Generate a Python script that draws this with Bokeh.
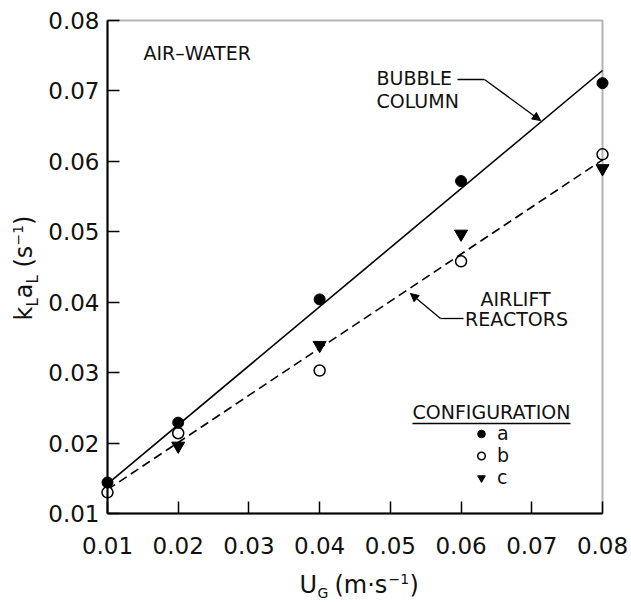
import math
from bokeh.plotting import figure
from bokeh.models import (Label, Arrow, NormalHead, Legend, LegendItem,
                          FixedTicker, Range1d, NumeralTickFormatter,
                          BoxAnnotation)
from bokeh.embed import file_html
from bokeh.resources import INLINE

# ---------------- data ----------------
ug = [0.01, 0.02, 0.04, 0.06, 0.08]                 # superficial gas velocity, m/s
kla_a = [0.0144, 0.0229, 0.0404, 0.0572, 0.0711]    # configuration a (filled circle)
kla_b = [0.0130, 0.0214, 0.0303, 0.0458, 0.0610]    # configuration b (open circle)
ug_c = [0.02, 0.04, 0.06, 0.08]
kla_c = [0.0196, 0.0339, 0.0497, 0.0590]            # configuration c (down triangle)

fit_x = [0.01, 0.08]
bubble_fit = [0.0142, 0.0729]                       # bubble column line
airlift_fit = [0.0134, 0.0602]                      # airlift reactors line

ticks = [0.01, 0.02, 0.03, 0.04, 0.05, 0.06, 0.07, 0.08]
legend_names = ["a", "b", "c"]

# ---------------- layout ----------------
W, H = 631, 603
FL, FR, FT, FB = 107, 602, 20, 513          # pixel box of the plotting area
X0, X1, Y0, Y1 = 0.01, 0.08, 0.01, 0.08
FONT = "DejaVu Sans"
INK = "#111111"


def dx(px):
    return X0 + (px - FL) / (FR - FL) * (X1 - X0)


def dy(py):
    return Y0 + (FB - py) / (FB - FT) * (Y1 - Y0)


# the Bokeh frame covers the whole canvas; axes sit at fixed locations
p = figure(width=W, height=H, output_backend="svg", toolbar_location=None,
           title=None,
           x_range=Range1d(dx(0), dx(W)), y_range=Range1d(dy(H), dy(0)),
           min_border=0, min_border_left=0, min_border_right=0,
           min_border_top=0, min_border_bottom=0)
p.grid.visible = False
p.background_fill_color = "white"
p.border_fill_color = "white"
p.outline_line_color = None

for ax in (p.xaxis[0], p.yaxis[0]):
    ax.ticker = FixedTicker(ticks=ticks)
    ax.formatter = NumeralTickFormatter(format="0.00")
    ax.bounds = (X0, X1)
    ax.major_tick_in = 12
    ax.major_tick_out = 0
    ax.minor_tick_line_color = None
    ax.major_tick_line_width = 1.5
    ax.major_tick_line_color = "black"
    ax.axis_line_width = 2
    ax.axis_line_color = "black"
    ax.major_label_text_font = FONT
    ax.major_label_text_font_size = "23px"
    ax.major_label_text_color = INK
    ax.axis_label = None
p.xaxis[0].fixed_location = Y0
p.yaxis[0].fixed_location = X0
p.xaxis[0].major_label_standoff = 23
p.yaxis[0].major_label_standoff = 8

# plot box
p.add_layout(BoxAnnotation(left=X0, right=X1, bottom=Y0, top=Y1,
                           fill_alpha=0, line_color="black", line_width=2))

# ---------------- lines ----------------
p.line(fit_x, bubble_fit, line_color="black", line_width=1.6)
p.line(fit_x, airlift_fit, line_color="black", line_width=1.6, line_dash="9 5")

# ---------------- markers ----------------
rc = p.scatter(ug_c, kla_c, marker="inverted_triangle", size=13,
               fill_color="black", line_color="black")
rb = p.scatter(ug, kla_b, marker="circle", size=11, fill_color="white",
               line_color="black", line_width=1.5)
ra = p.scatter(ug, kla_a, marker="circle", size=11, fill_color="black",
               line_color="black")

legend = Legend(items=[LegendItem(label=legend_names[0], renderers=[ra]),
                       LegendItem(label=legend_names[1], renderers=[rb]),
                       LegendItem(label=legend_names[2], renderers=[rc])],
                location=(469, H - 488), orientation="vertical",
                border_line_color=None, background_fill_alpha=0,
                padding=0, margin=0, spacing=0,
                glyph_width=24, glyph_height=19, label_standoff=4,
                label_height=19, label_text_font=FONT,
                label_text_font_size="19px", label_text_color=INK,
                label_text_baseline="middle")
p.add_layout(legend)


# ---------------- text annotations ----------------
def lab(text, cx, cy, size=19, align="left", angle=0.0):
    # (cx, cy): intended baseline position in canvas pixels
    off = 0.4 * size
    if angle:
        cx = cx - off
    else:
        cy = cy - off
    p.add_layout(Label(x=dx(cx), y=dy(cy), text=text, text_font=FONT,
                       text_font_size=f"{size}px", text_align=align,
                       text_baseline="alphabetic", angle=angle,
                       text_color=INK))


def seg(x0, y0, x1, y1, head=False):
    end = NormalHead(size=8, fill_color="black", line_color="black",
                     line_width=1) if head else None
    p.add_layout(Arrow(end=end, x_start=dx(x0), y_start=dy(y0),
                       x_end=dx(x1), y_end=dy(y1),
                       line_color="black", line_width=1.3))


lab("AIR\u2013WATER", 143, 60)
lab("BUBBLE", 376, 85)
lab("COLUMN", 376, 108)
lab("AIRLIFT", 515, 306, align="center")
lab("REACTORS", 516, 326, align="center")
lab("CONFIGURATION", 412, 419)
seg(412, 423, 570, 423)

seg(457, 79, 484, 79)
seg(484, 79, 540, 120, head=True)
seg(463, 318, 440, 318)
seg(440, 318, 410, 293, head=True)

# x axis title: U_G (m·s^-1)
lab("U", 299, 594, size=24)
lab("G", 317, 598, size=14)
lab("(m\u00b7s", 334, 594, size=24)
lab("\u22121", 388, 584, size=14)
lab(")", 409, 594, size=24)

# y axis title: k_L a_L (s^-1), rotated
R = math.pi / 2
lab("k", 33, 320, size=24, angle=R)
lab("L", 38, 306, size=15, angle=R)
lab("a", 33, 297.7, size=24, angle=R)
lab("L", 38, 283, size=15, angle=R)
lab("(s", 33, 267, size=24, angle=R)
lab("\u22121", 23, 245, size=14, angle=R)
lab(")", 33, 224.5, size=24, angle=R)

open("out.html", "w").write(file_html(p, INLINE))
